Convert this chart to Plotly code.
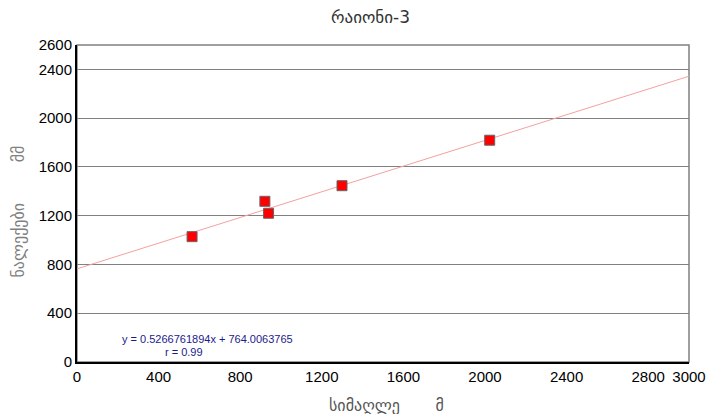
import plotly.graph_objects as go

# Elevation (m) vs precipitation (mm) for district 3
elevation = [564, 921, 939, 1299, 2023]
precip = [1028, 1318, 1220, 1446, 1819]

# Linear trend coefficients and correlation
slope = 0.5266761894
intercept = 764.0063765
r_value = 0.99

x_ticks = [0, 400, 800, 1200, 1600, 2000, 2400, 2800, 3000]
y_ticks = [0, 400, 800, 1200, 1600, 2000, 2400, 2600]
x_range = [0, 3000]
y_range = [0, 2600]

georgian_font = "DejaVu Sans"
latin_font = "Liberation Sans, Arial, sans-serif"

fig = go.Figure()

# Trend line drawn from the equation over the full x range
fig.add_trace(go.Scatter(
    x=x_range,
    y=[intercept + slope * v for v in x_range],
    mode="lines",
    line=dict(color="#f4a0a0", width=1),
    hoverinfo="skip",
    showlegend=False,
))

fig.add_trace(go.Scatter(
    x=elevation,
    y=precip,
    mode="markers",
    marker=dict(symbol="square", size=10, color="#ff0000",
                line=dict(color="#666666", width=1)),
    showlegend=False,
))

# Plot frame (top/right in gray)
fig.add_shape(type="rect", xref="paper", yref="paper", x0=0, y0=0, x1=1, y1=1,
              line=dict(color="#808080", width=1.5), layer="below")

fig.update_layout(
    width=708,
    height=414,
    margin=dict(l=77, r=19, t=45, b=52),
    paper_bgcolor="white",
    plot_bgcolor="white",
    font=dict(family=latin_font, size=14, color="black"),
    xaxis=dict(
        range=x_range,
        tickvals=x_ticks,
        ticktext=[str(v) for v in x_ticks],
        showgrid=False,
        zeroline=False,
        showline=True,
        linecolor="black",
        linewidth=2,
        ticks="",
        tickfont=dict(size=15),
        automargin=False,
    ),
    yaxis=dict(
        range=y_range,
        tickvals=y_ticks,
        ticktext=[str(v) for v in y_ticks],
        showgrid=True,
        gridcolor="#808080",
        gridwidth=1,
        zeroline=False,
        showline=True,
        linecolor="black",
        linewidth=2,
        ticks="",
        tickfont=dict(size=15),
        automargin=False,
    ),
    annotations=[
        dict(text="რაიონი-3", xref="paper", yref="paper", x=0.48, y=1,
             yshift=28, showarrow=False, xanchor="center", yanchor="middle",
             font=dict(family=georgian_font, size=17, color="#333333")),
        dict(text="სიმაღლე       მ", xref="paper", yref="paper", x=0.505, y=0,
             yshift=-43, showarrow=False, xanchor="center", yanchor="middle",
             font=dict(family=georgian_font, size=16, color="#555555")),
        dict(text="ნალექები        მმ", xref="paper", yref="paper", x=0, y=0.5,
             xshift=-59, yshift=-8, showarrow=False, xanchor="center", yanchor="middle",
             textangle=-90,
             font=dict(family=georgian_font, size=16, color="#808080")),
        dict(text=f"y = {slope}x + {intercept}", x=640, y=185, xref="x", yref="y",
             showarrow=False, xanchor="center", yanchor="middle",
             font=dict(family=latin_font, size=11, color="#1a1a8c")),
        dict(text=f"r = {r_value}", x=525, y=80, xref="x", yref="y",
             showarrow=False, xanchor="center", yanchor="middle",
             font=dict(family=latin_font, size=11, color="#1a1a8c")),
    ],
)

fig.write_html("out.html")
